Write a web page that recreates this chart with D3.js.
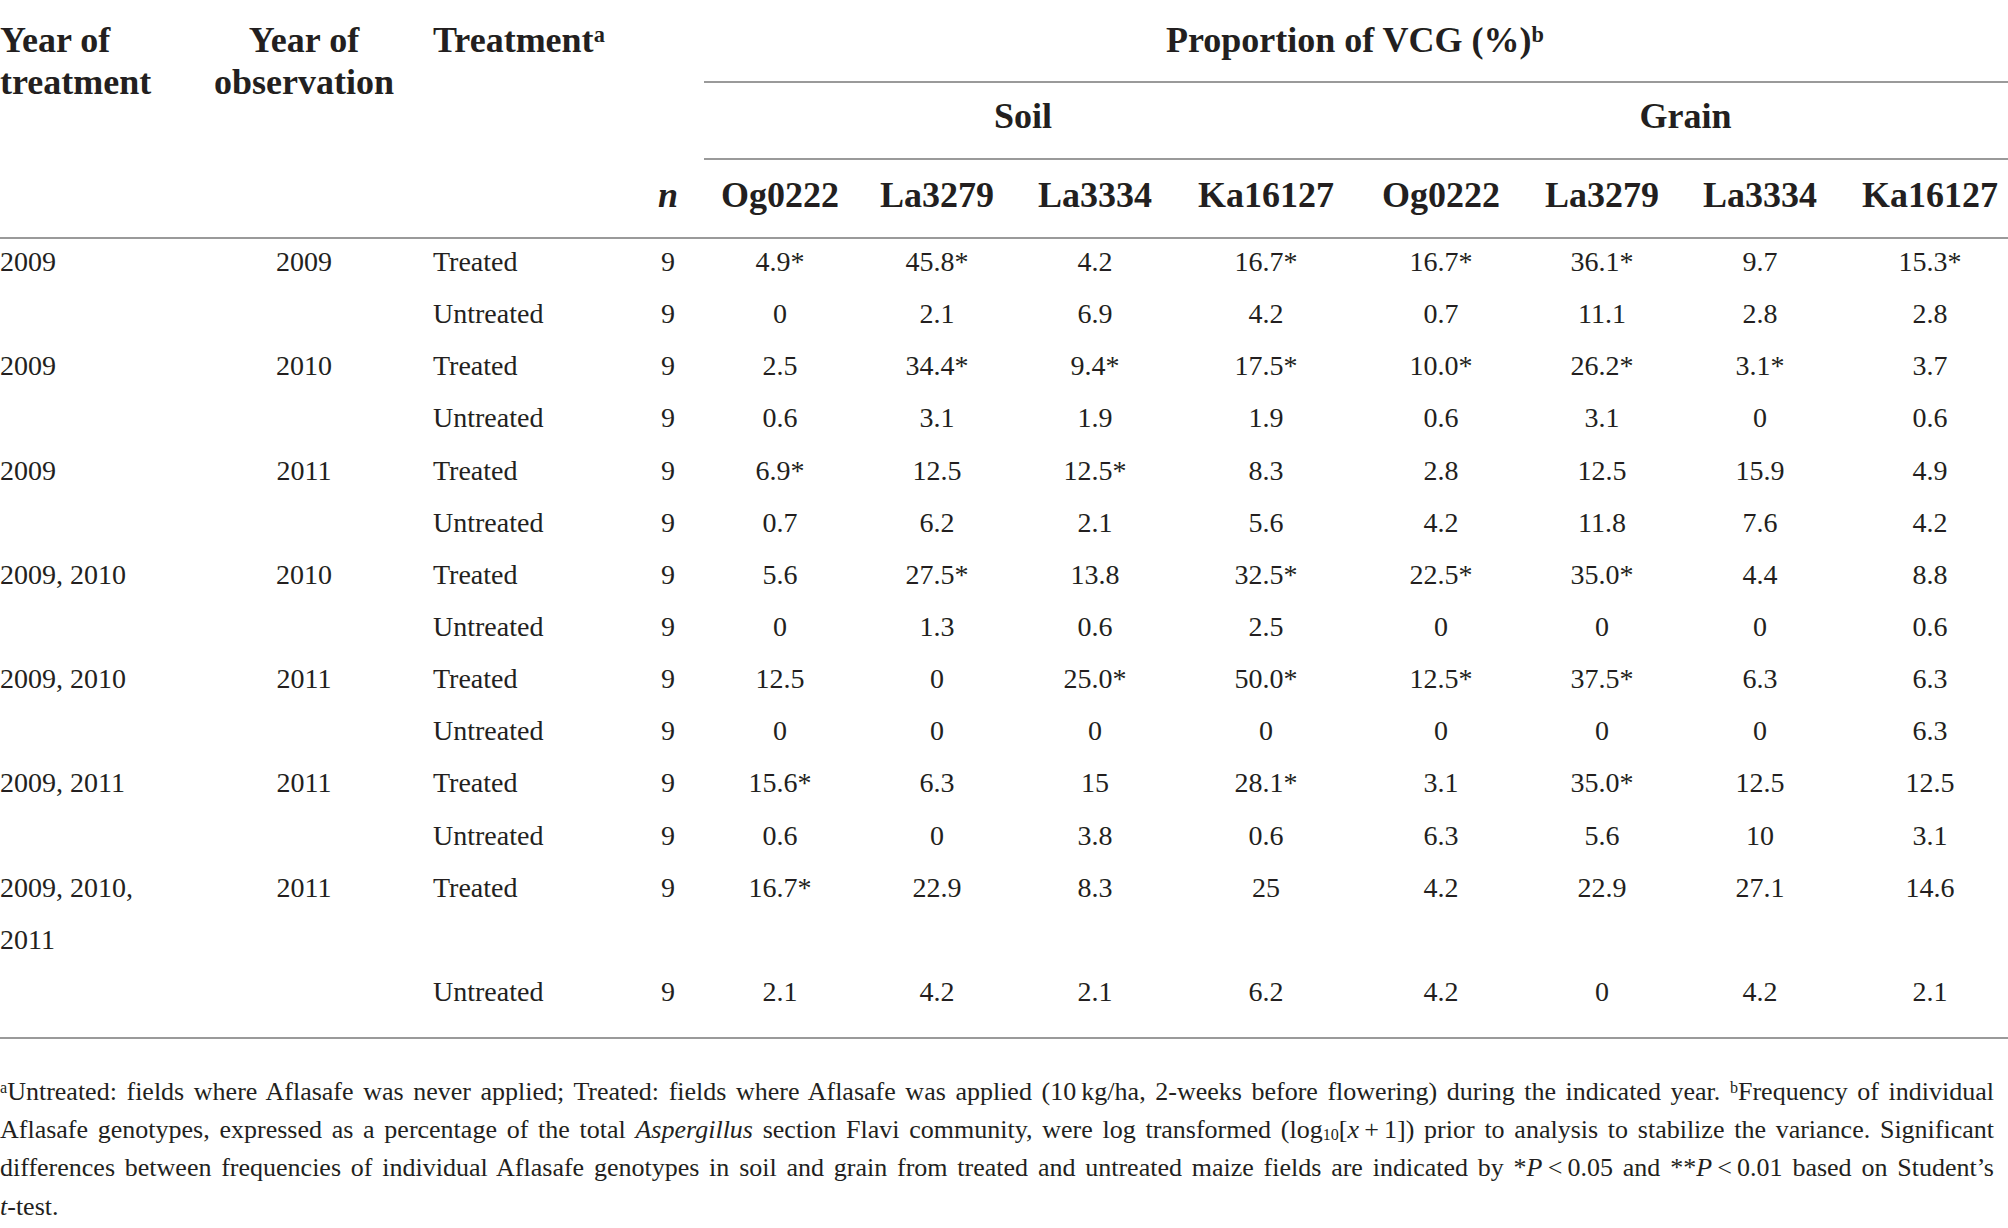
<!DOCTYPE html>
<html>
<head>
<meta charset="utf-8">
<script src="https://cdn.jsdelivr.net/npm/d3@7"></script>
<style>
  html, body { margin: 0; padding: 0; background: #fff; }
  svg text { font-family: "Liberation Serif", "Times New Roman", serif; fill: #231f20; }
</style>
</head>
<body>
<script>
  var vcgs = ['Og0222', 'La3279', 'La3334', 'Ka16127'];
  var sources = ['Soil', 'Grain'];

  // one entry per table line; '' = empty cell
  var yearTreated  = ['2009', '', '2009', '', '2009', '', '2009, 2010', '', '2009, 2010', '', '2009, 2011', '', '2009, 2010,', '2011', ''];
  var yearObserved = ['2009', '', '2010', '', '2011', '', '2010', '', '2011', '', '2011', '', '2011', '', ''];
  var treatment    = ['Treated', 'Untreated', 'Treated', 'Untreated', 'Treated', 'Untreated', 'Treated', 'Untreated',
                      'Treated', 'Untreated', 'Treated', 'Untreated', 'Treated', '', 'Untreated'];
  var nValues      = ['9', '9', '9', '9', '9', '9', '9', '9', '9', '9', '9', '9', '9', '', '9'];

  var soilValues = [
    ['4.9*', '45.8*', '4.2', '16.7*'],
    ['0', '2.1', '6.9', '4.2'],
    ['2.5', '34.4*', '9.4*', '17.5*'],
    ['0.6', '3.1', '1.9', '1.9'],
    ['6.9*', '12.5', '12.5*', '8.3'],
    ['0.7', '6.2', '2.1', '5.6'],
    ['5.6', '27.5*', '13.8', '32.5*'],
    ['0', '1.3', '0.6', '2.5'],
    ['12.5', '0', '25.0*', '50.0*'],
    ['0', '0', '0', '0'],
    ['15.6*', '6.3', '15', '28.1*'],
    ['0.6', '0', '3.8', '0.6'],
    ['16.7*', '22.9', '8.3', '25'],
    null,
    ['2.1', '4.2', '2.1', '6.2']
  ];
  var grainValues = [
    ['16.7*', '36.1*', '9.7', '15.3*'],
    ['0.7', '11.1', '2.8', '2.8'],
    ['10.0*', '26.2*', '3.1*', '3.7'],
    ['0.6', '3.1', '0', '0.6'],
    ['2.8', '12.5', '15.9', '4.9'],
    ['4.2', '11.8', '7.6', '4.2'],
    ['22.5*', '35.0*', '4.4', '8.8'],
    ['0', '0', '0', '0.6'],
    ['12.5*', '37.5*', '6.3', '6.3'],
    ['0', '0', '0', '6.3'],
    ['3.1', '35.0*', '12.5', '12.5'],
    ['6.3', '5.6', '10', '3.1'],
    ['4.2', '22.9', '27.1', '14.6'],
    null,
    ['4.2', '0', '4.2', '2.1']
  ];

  // footnote lines, as [text, style] runs
  var footnote = [
    [['a', 'sup'], ['Untreated: fields where Aflasafe was never applied; Treated: fields where Aflasafe was applied (10\u2009kg/ha, 2-weeks before flowering) during the indicated year. '], ['b', 'sup'], ['Frequency of individual']],
    [['Aflasafe genotypes, expressed as a percentage of the total '], ['Aspergillus', 'i'], [' section Flavi community, were log transformed (log'], ['10', 'sub'], ['['], ['x', 'i'], ['\u2009+\u20091]) prior to analysis to stabilize the variance. Significant']],
    [['differences between frequencies of individual Aflasafe genotypes in soil and grain from treated and untreated maize fields are indicated by *'], ['P', 'i'], ['\u2009<\u20090.05 and **'], ['P', 'i'], ['\u2009<\u20090.01 based on Student\u2019s']],
    [['t', 'i'], ['-test.']]
  ];

  // ---- layout ----
  var width = 2008, height = 1228;
  var headSize = 36, bodySize = 28, noteSize = 26;

  var svg = d3.select('body')
    .append('svg')
    .attr('width', width)
    .attr('height', height);

  // value columns: soil group then grain group
  var valueCols = [];
  sources.forEach(function (s) {
    vcgs.forEach(function (v) { valueCols.push(s + ':' + v); });
  });
  var colX = d3.scaleOrdinal()
    .domain(valueCols)
    .range([780, 937, 1095, 1266, 1441, 1602, 1760, 1930]);

  var rowY = d3.scaleLinear()
    .domain([0, yearTreated.length - 1])
    .range([271, 1001]);

  function rule(x1, x2, y) {
    svg.append('line')
      .attr('x1', x1).attr('x2', x2)
      .attr('y1', y).attr('y2', y)
      .attr('stroke', '#9a9a9a')
      .attr('stroke-width', 2);
  }

  // rich text helper
  function rich(sel, runs, size) {
    runs.forEach(function (r) {
      var t = sel.append('tspan').text(r[0]);
      if (r[1] === 'i') t.style('font-style', 'italic');
      if (r[1] === 'sup') t.style('font-size', (size * 0.62) + 'px').attr('baseline-shift', '45%');
      if (r[1] === 'sub') t.style('font-size', (size * 0.62) + 'px').attr('baseline-shift', '-15%');
    });
    return sel;
  }

  function headText(x, y, anchor, runs) {
    var t = svg.append('text')
      .attr('x', x).attr('y', y)
      .attr('text-anchor', anchor)
      .style('font-size', headSize + 'px')
      .style('font-weight', 'bold');
    return rich(t, runs, headSize);
  }

  // ---- header ----
  headText(0, 52, 'start', [['Year of']]);
  headText(0, 94, 'start', [['treatment']]);
  headText(304, 52, 'middle', [['Year of']]);
  headText(304, 94, 'middle', [['observation']]);
  headText(433, 52, 'start', [['Treatment'], ['a', 'sup']]);

  var firstX = colX(valueCols[0]), lastX = colX(valueCols[valueCols.length - 1]);
  headText((firstX + lastX) / 2, 52, 'middle', [['Proportion of VCG (%)'], ['b', 'sup']]);
  rule(704, width, 82);

  sources.forEach(function (s) {
    var a = colX(s + ':' + vcgs[0]), b = colX(s + ':' + vcgs[vcgs.length - 1]);
    headText((a + b) / 2, 128, 'middle', [[s]]);
  });
  rule(704, width, 159);

  headText(668, 207, 'middle', [['n', 'i']]);
  valueCols.forEach(function (c) {
    headText(colX(c), 207, 'middle', [[c.split(':')[1]]]);
  });
  rule(0, width, 238);

  // ---- body ----
  var body = svg.append('g').style('font-size', bodySize + 'px');

  function column(values, x, anchor) {
    body.append('g')
      .selectAll('text')
      .data(values)
      .enter()
      .append('text')
      .attr('x', x)
      .attr('y', function (d, i) { return rowY(i); })
      .attr('text-anchor', anchor)
      .text(function (d) { return d; });
  }

  column(yearTreated, 0, 'start');
  column(yearObserved, 304, 'middle');
  column(treatment, 433, 'start');
  column(nValues, 668, 'middle');

  [soilValues, grainValues].forEach(function (set, si) {
    vcgs.forEach(function (v, vi) {
      var vals = set.map(function (row) { return row ? row[vi] : ''; });
      column(vals, colX(sources[si] + ':' + v), 'middle');
    });
  });

  rule(0, width, 1038);

  // ---- footnote, justified like the print ----
  var noteW = 1994;
  footnote.forEach(function (runs, i) {
    var t = svg.append('text')
      .attr('x', 0)
      .attr('y', 1100 + i * 38.2)
      .style('font-size', noteSize + 'px');
    rich(t, runs, noteSize);
    if (i < footnote.length - 1) {
      var natural = t.node().getComputedTextLength();
      var spaces = runs.map(function (r) { return r[0]; }).join('').split(' ').length - 1;
      if (spaces > 0) t.style('word-spacing', ((noteW - natural) / spaces) + 'px');
    }
  });
</script>
</body>
</html>
